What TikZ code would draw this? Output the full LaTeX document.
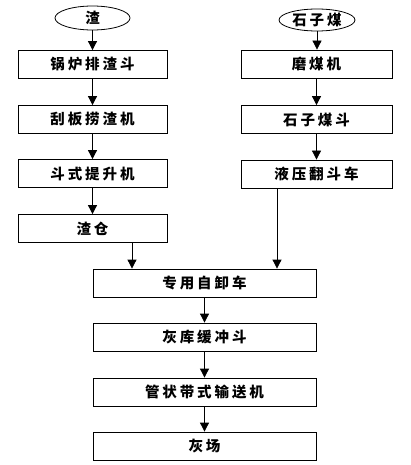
\documentclass[tikz,border=0pt]{standalone}
\usepackage{fontspec}
\newfontfamily\cjk{Noto Sans CJK SC}[LetterSpace=20]
\usetikzlibrary{shapes.geometric,arrows.meta}
\begin{document}
\begin{tikzpicture}[x=1pt,y=-1pt,
  every node/.style={font=\cjk\bfseries\fontsize{14.5}{15}\selectfont, inner sep=0pt, text=black},
  box/.style={draw, line width=0.8pt, minimum height=28pt},
  lbox/.style={box, minimum width=149pt},
  rbox/.style={box, minimum width=151pt},
  bbox/.style={box, minimum width=223pt},
  oval/.style={draw, ellipse, line width=0.8pt, minimum height=24pt},
  arr/.style={line width=0.8pt, -{Triangle[length=9pt,width=9pt]}}]
\useasboundingbox (0,0) rectangle (410,465);
\node[oval, minimum width=75pt] (s1) at (92.5,18) {渣};
\node[lbox] (l1) at (92.5,64.5) {锅炉排渣斗};
\node[lbox] (l2) at (92.5,119.5) {刮板捞渣机};
\node[lbox] (l3) at (92.5,173.5) {斗式提升机};
\node[lbox] (l4) at (92.5,228.5) {渣仓};
\node[oval, minimum width=76pt, minimum height=22pt] (s2) at (317,20) {石子煤};
\node[rbox] (r1) at (316.5,64) {磨煤机};
\node[rbox] (r2) at (316.5,119.5) {石子煤斗};
\node[rbox] (r3) at (316.5,174) {液压翻斗车};
\node[bbox] (b1) at (204.5,283) {专用自卸车};
\node[bbox] (b2) at (204.5,337) {灰库缓冲斗};
\node[bbox] (b3) at (204.5,392) {管状带式输送机};
\node[bbox] (b4) at (204.5,446) {灰场};
\draw[arr] (s1) -- (l1);
\draw[arr] (l1) -- (l2);
\draw[arr] (l2) -- (l3);
\draw[arr] (l3) -- (l4);
\draw[arr] (s2) -- (s2 |- r1.north);
\draw[arr] (r1) -- (r2);
\draw[arr] (r2) -- (r3);
\coordinate (xl) at (132,0);
\coordinate (xr) at (277,0);
\draw[arr] (xl |- l4.south) -- (xl |- b1.north);
\draw[arr] (xr |- r3.south) -- (xr |- b1.north);
\draw[arr] (b1) -- (b2);
\draw[arr] (b2) -- (b3);
\draw[arr] (b3) -- (b4);
\end{tikzpicture}
\end{document}
